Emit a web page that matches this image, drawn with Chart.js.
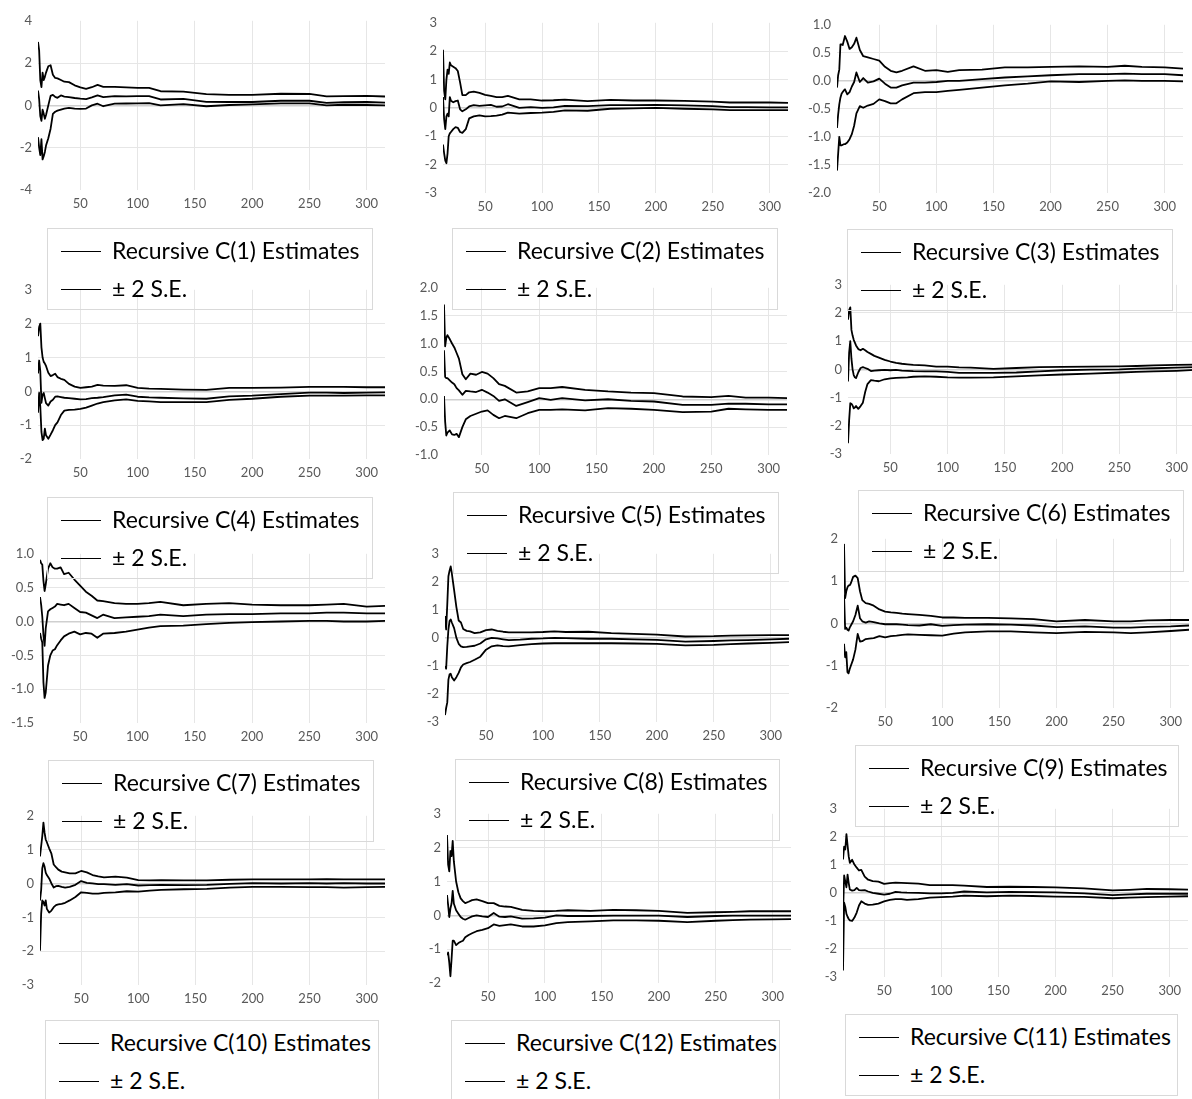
<!DOCTYPE html>
<html>
<head>
<meta charset="utf-8">
<script src="https://cdn.jsdelivr.net/npm/chart.js@4.4.0/dist/chart.umd.min.js"></script>
<style>
  html, body { margin: 0; padding: 0; background: #fff; overflow: hidden; }
  body { width: 1192px; height: 1099px; position: relative; font-family: Lato, "Open Sans", sans-serif; }
  .legend { position: absolute; height: 82px; border: 1px solid #d9d9d9; box-sizing: border-box; color: #000; font-size: 23px; }
  .legend .row { position: absolute; white-space: nowrap; line-height: 26px; height: 26px; }
  .legend .swatch { position: absolute; height: 0; border-top: 1.5px solid #000; width: 40px; }
</style>
</head>
<body>
<script>
// Recursive coefficient estimates (middle line) with ± 2 S.E. bands

// observation index used for every panel
const obsX = [13,14,15,16,17,18,19,20,22,24,26,28,30,33,36,40,45,50,55,60,65,70,80,90,100,110,120,140,160,180,200,225,250,265,280,300,316];
const xTicks = [50,100,150,200,250,300];

// C(1)
const c1Hi  = [3.0,2.6,1.2,0.86,1.55,1.2,1.35,1.55,1.85,1.9,1.45,1.3,1.28,1.2,1.12,1.1,0.95,0.85,0.78,0.86,0.97,0.88,0.88,0.85,0.83,0.83,0.67,0.65,0.53,0.5,0.5,0.55,0.54,0.43,0.44,0.45,0.42];
const c1Est = [0.7,0.3,-0.5,-0.73,-0.2,-0.4,-0.63,-0.45,0.0,0.45,0.5,0.4,0.36,0.47,0.42,0.39,0.35,0.32,0.3,0.38,0.47,0.39,0.44,0.43,0.44,0.44,0.28,0.31,0.17,0.16,0.16,0.22,0.22,0.12,0.15,0.16,0.13];
const c1Lo  = [-1.5,-2.0,-2.35,-1.6,-2.55,-2.4,-2.2,-1.9,-1.55,-1.1,-0.4,-0.3,-0.25,-0.2,-0.15,-0.12,-0.15,-0.16,-0.15,0.0,0.08,-0.04,0.08,0.09,0.1,0.11,0.0,0.06,-0.04,0.02,0.05,0.1,0.1,0.0,0.03,0.02,0.0];
const c1Ticks = [-4,-2,0,2,4];

// C(2)
const c2Hi  = [2.05,0.6,0.3,1.0,1.35,1.2,1.6,1.5,1.45,1.4,1.3,0.9,0.45,0.45,0.55,0.57,0.53,0.46,0.42,0.38,0.38,0.42,0.3,0.3,0.26,0.27,0.29,0.24,0.28,0.26,0.26,0.25,0.22,0.19,0.19,0.19,0.18];
const c2Est = [0.38,-0.4,-0.75,-0.3,-0.2,-0.3,0.38,0.25,0.2,0.24,0.26,-0.05,-0.12,-0.05,0.05,0.1,0.07,0.09,0.11,0.04,0.05,0.13,0.0,0.03,0.0,0.02,0.07,0.06,0.1,0.1,0.11,0.09,0.06,0.03,0.03,0.02,0.02];
const c2Lo  = [-1.29,-1.6,-1.86,-1.95,-1.6,-1.0,-0.9,-0.85,-0.75,-0.68,-0.7,-0.85,-0.88,-0.75,-0.37,-0.3,-0.26,-0.3,-0.29,-0.27,-0.24,-0.17,-0.2,-0.18,-0.17,-0.14,-0.09,-0.1,-0.03,-0.02,0.0,-0.03,-0.05,-0.08,-0.08,-0.08,-0.08];
const c2Ticks = [-3,-2,-1,0,1,2,3];

// C(3)
const c3Hi  = [-0.12,0.1,0.2,0.65,0.65,0.64,0.72,0.8,0.7,0.57,0.6,0.66,0.77,0.55,0.44,0.42,0.39,0.36,0.25,0.18,0.15,0.18,0.26,0.18,0.19,0.16,0.19,0.2,0.24,0.24,0.25,0.26,0.25,0.27,0.25,0.24,0.22];
const c3Est = [-0.84,-0.6,-0.42,-0.3,-0.23,-0.2,-0.17,-0.15,-0.24,-0.2,-0.1,-0.02,0.15,-0.02,0.05,-0.03,-0.01,0.04,-0.05,-0.12,-0.12,-0.08,-0.03,-0.03,-0.02,0.0,0.0,0.03,0.06,0.08,0.1,0.12,0.12,0.13,0.12,0.12,0.1];
const c3Lo  = [-1.6,-1.3,-1.0,-1.15,-1.15,-1.14,-1.13,-1.13,-1.1,-1.04,-0.95,-0.8,-0.58,-0.45,-0.48,-0.44,-0.41,-0.33,-0.36,-0.4,-0.4,-0.33,-0.22,-0.2,-0.2,-0.18,-0.16,-0.12,-0.08,-0.05,-0.01,-0.02,0.0,0.01,0.0,0.0,-0.01];
const c3Ticks = [-2,-1.5,-1,-0.5,0,0.5,1];

// C(4)
const c4Hi  = [1.63,1.9,2.0,1.3,1.0,0.87,0.82,0.75,0.55,0.45,0.48,0.52,0.42,0.37,0.34,0.22,0.14,0.1,0.12,0.14,0.19,0.17,0.16,0.18,0.1,0.08,0.07,0.05,0.04,0.1,0.1,0.11,0.13,0.13,0.13,0.12,0.12];
const c4Est = [0.53,0.91,0.6,-0.34,-0.1,-0.05,-0.2,-0.35,-0.42,-0.3,-0.25,-0.16,-0.15,-0.17,-0.19,-0.2,-0.22,-0.24,-0.23,-0.2,-0.19,-0.17,-0.12,-0.1,-0.16,-0.18,-0.19,-0.21,-0.22,-0.15,-0.13,-0.08,-0.04,-0.04,-0.05,-0.04,-0.03];
const c4Lo  = [-0.63,-0.05,-0.45,-1.2,-1.44,-1.4,-1.1,-1.3,-1.4,-1.28,-1.15,-1.0,-0.92,-0.7,-0.57,-0.55,-0.54,-0.52,-0.48,-0.42,-0.36,-0.32,-0.27,-0.24,-0.28,-0.3,-0.32,-0.32,-0.32,-0.25,-0.22,-0.16,-0.13,-0.13,-0.13,-0.12,-0.12];
const c4Ticks = [-2,-1,0,1,2,3];

// C(5)
const c5Hi  = [null,null,null,null,1.7,0.95,1.1,1.15,1.08,1.0,0.93,0.83,0.73,0.45,0.36,0.46,0.44,0.49,0.46,0.38,0.27,0.24,0.12,0.14,0.2,0.2,0.22,0.17,0.14,0.12,0.11,0.05,0.04,0.06,0.03,0.03,0.02];
const c5Est = [null,null,null,null,0.88,0.4,0.38,0.38,0.34,0.3,0.27,0.2,0.16,0.08,0.15,0.14,0.13,0.17,0.12,0.06,-0.03,0.0,-0.12,-0.05,0.02,-0.01,0.02,-0.02,0.0,-0.03,-0.04,-0.1,-0.1,-0.08,-0.08,-0.09,-0.09];
const c5Lo  = [null,null,null,null,0.06,-0.4,-0.65,-0.6,-0.56,-0.63,-0.64,-0.62,-0.68,-0.5,-0.36,-0.3,-0.26,-0.22,-0.2,-0.28,-0.34,-0.3,-0.34,-0.25,-0.19,-0.19,-0.18,-0.2,-0.16,-0.17,-0.19,-0.23,-0.22,-0.17,-0.18,-0.19,-0.19];
const c5Ticks = [-1,-0.5,0,0.5,1,1.5,2];

// C(6)
const c6Hi  = [1.76,2.1,2.2,1.4,1.2,1.05,0.95,0.85,0.72,0.68,0.73,0.68,0.62,0.55,0.48,0.42,0.34,0.28,0.23,0.2,0.18,0.16,0.14,0.1,0.1,0.07,0.06,0.02,0.05,0.08,0.09,0.1,0.11,0.12,0.14,0.16,0.17];
const c6Est = [-0.43,0.6,1.0,0.38,0.0,-0.2,-0.28,-0.31,-0.1,0.05,0.08,0.05,0.02,-0.06,-0.04,-0.03,-0.02,-0.03,-0.02,-0.04,-0.05,-0.06,-0.07,-0.07,-0.09,-0.12,-0.12,-0.12,-0.11,-0.07,-0.03,-0.01,0.0,0.03,0.04,0.06,0.08];
const c6Lo  = [-2.62,-1.8,-1.2,-1.22,-1.28,-1.38,-1.35,-1.3,-1.4,-1.3,-1.18,-0.8,-0.52,-0.38,-0.4,-0.42,-0.35,-0.32,-0.3,-0.29,-0.28,-0.26,-0.25,-0.26,-0.28,-0.29,-0.29,-0.28,-0.25,-0.21,-0.18,-0.15,-0.11,-0.09,-0.07,-0.05,-0.02];
const c6Ticks = [-3,-2,-1,0,1,2,3];

// C(7)
const c7Hi  = [null,null,0.91,0.86,0.84,0.6,0.45,0.55,0.78,0.86,0.8,0.78,0.78,0.8,0.7,0.72,0.62,0.53,0.44,0.38,0.31,0.3,0.27,0.26,0.26,0.27,0.29,0.24,0.26,0.27,0.25,0.24,0.24,0.25,0.26,0.22,0.23];
const c7Est = [null,null,0.36,0.25,0.07,-0.2,-0.36,-0.1,0.15,0.18,0.2,0.22,0.26,0.25,0.24,0.26,0.2,0.14,0.13,0.09,0.05,0.1,0.05,0.06,0.07,0.08,0.1,0.08,0.1,0.11,0.11,0.12,0.12,0.13,0.13,0.12,0.12];
const c7Lo  = [null,null,-0.17,-0.25,-0.31,-0.9,-1.13,-1.05,-0.65,-0.5,-0.43,-0.41,-0.35,-0.28,-0.22,-0.18,-0.15,-0.19,-0.17,-0.18,-0.24,-0.18,-0.17,-0.15,-0.12,-0.09,-0.07,-0.06,-0.04,-0.02,-0.01,0.0,0.01,0.01,0.0,0.0,0.01];
const c7Ticks = [-1.5,-1,-0.5,0,0.5,1];

// C(8)
const c8Hi  = [null,0.78,0.3,1.2,2.2,2.4,2.55,2.3,1.7,1.1,0.62,0.55,0.32,0.25,0.23,0.17,0.2,0.28,0.3,0.25,0.22,0.2,0.2,0.2,0.21,0.23,0.21,0.22,0.17,0.14,0.12,0.05,0.06,0.08,0.09,0.1,0.1];
const c8Est = [null,-1.0,-1.1,-0.3,0.3,0.6,0.66,0.55,0.35,0.0,-0.21,-0.3,-0.33,-0.32,-0.3,-0.28,-0.2,-0.05,0.0,-0.02,-0.05,-0.08,-0.06,-0.03,-0.02,0.0,-0.01,-0.03,-0.03,-0.05,-0.07,-0.13,-0.11,-0.09,-0.08,-0.05,-0.03];
const c8Lo  = [null,-2.75,-2.5,-2.3,-1.49,-1.3,-1.28,-1.4,-1.52,-1.4,-1.25,-1.05,-0.95,-0.9,-0.86,-0.78,-0.67,-0.42,-0.3,-0.27,-0.29,-0.3,-0.26,-0.22,-0.2,-0.19,-0.19,-0.19,-0.19,-0.2,-0.21,-0.27,-0.25,-0.22,-0.2,-0.18,-0.15];
const c8Ticks = [-3,-2,-1,0,1,2,3];

// C(9)
const c9Hi  = [null,1.88,0.6,0.76,0.85,0.9,0.9,0.95,1.1,1.13,1.07,0.76,0.55,0.48,0.46,0.42,0.33,0.28,0.26,0.25,0.23,0.22,0.2,0.18,0.14,0.14,0.13,0.13,0.12,0.1,0.05,0.08,0.05,0.05,0.07,0.08,0.08];
const c9Est = [null,0.68,-0.13,-0.1,-0.15,-0.17,-0.1,-0.05,0.05,0.2,0.42,0.12,0.05,0.02,0.05,0.03,0.0,-0.02,-0.02,-0.02,-0.03,-0.04,-0.05,-0.02,-0.06,-0.04,-0.03,-0.02,-0.03,-0.05,-0.09,-0.07,-0.1,-0.1,-0.08,-0.07,-0.05];
const c9Lo  = [null,-0.48,-0.8,-0.68,-1.15,-1.18,-1.08,-1.0,-0.85,-0.62,-0.25,-0.43,-0.42,-0.37,-0.36,-0.35,-0.3,-0.33,-0.3,-0.29,-0.27,-0.26,-0.27,-0.28,-0.29,-0.24,-0.21,-0.19,-0.19,-0.21,-0.23,-0.2,-0.21,-0.23,-0.21,-0.18,-0.15];
const c9Ticks = [-2,-1,0,1,2];

// C(10)
const c10Hi  = [null,0.8,1.1,1.4,1.8,1.5,1.3,1.22,1.04,0.88,0.56,0.48,0.41,0.35,0.33,0.3,0.3,0.37,0.33,0.25,0.21,0.18,0.2,0.17,0.1,0.09,0.1,0.09,0.09,0.11,0.12,0.12,0.12,0.13,0.12,0.12,0.12];
const c10Est = [null,-0.5,-0.2,0.45,0.6,0.5,0.32,0.25,0.15,0.0,-0.12,-0.08,-0.07,-0.1,-0.12,-0.1,-0.04,0.07,0.02,0.0,-0.02,-0.02,-0.04,-0.02,-0.06,-0.05,-0.04,-0.05,-0.04,-0.01,0.01,0.0,0.01,0.0,0.01,0.0,0.0];
const c10Lo  = [null,-1.99,-0.9,-0.5,-0.55,-0.65,-0.5,-0.75,-0.86,-0.8,-0.7,-0.64,-0.62,-0.6,-0.57,-0.5,-0.4,-0.26,-0.28,-0.3,-0.3,-0.28,-0.26,-0.23,-0.24,-0.21,-0.19,-0.17,-0.16,-0.12,-0.1,-0.1,-0.11,-0.11,-0.12,-0.11,-0.1];
const c10Ticks = [-3,-2,-1,0,1,2];

// C(12)
const c12Hi  = [null,2.37,1.5,1.3,1.9,1.75,2.2,1.6,1.0,0.68,0.5,0.42,0.36,0.4,0.45,0.47,0.42,0.36,0.36,0.28,0.26,0.25,0.16,0.13,0.12,0.13,0.15,0.13,0.16,0.15,0.13,0.07,0.09,0.1,0.12,0.12,0.12];
const c12Est = [null,0.6,0.3,-0.05,0.2,0.35,0.72,0.35,0.15,0.05,-0.05,-0.1,-0.13,-0.08,-0.03,0.0,-0.03,-0.05,0.07,-0.04,-0.05,-0.03,-0.1,-0.09,-0.07,0.0,-0.02,-0.02,-0.01,-0.01,-0.01,-0.05,-0.02,-0.01,-0.01,-0.01,-0.01];
const c12Lo  = [null,-1.18,-1.1,-1.4,-1.8,-1.3,-0.75,-0.75,-0.88,-0.82,-0.78,-0.75,-0.65,-0.58,-0.53,-0.47,-0.43,-0.38,-0.27,-0.31,-0.29,-0.27,-0.33,-0.33,-0.3,-0.23,-0.2,-0.18,-0.15,-0.15,-0.16,-0.2,-0.16,-0.14,-0.13,-0.12,-0.11];
const c12Ticks = [-2,-1,0,1,2,3];

// C(11)
const c11Hi  = [null,1.19,1.65,1.55,2.1,1.7,1.3,1.07,1.18,1.01,0.9,0.8,0.82,0.58,0.47,0.42,0.4,0.32,0.35,0.37,0.36,0.35,0.33,0.28,0.28,0.28,0.26,0.21,0.22,0.21,0.2,0.16,0.09,0.11,0.14,0.13,0.12];
const c11Est = [null,-0.79,0.62,0.4,0.2,0.65,0.35,0.12,0.08,0.1,0.18,0.1,0.09,0.1,0.05,0.0,-0.03,-0.06,-0.03,0.04,0.02,0.01,0.0,-0.02,-0.02,0.0,0.05,0.02,0.04,0.03,0.02,-0.02,-0.08,-0.05,-0.03,-0.03,-0.03];
const c11Lo  = [null,-2.77,-0.35,-0.5,-0.75,-0.85,-0.93,-0.98,-1.0,-0.88,-0.7,-0.45,-0.3,-0.38,-0.43,-0.42,-0.38,-0.3,-0.25,-0.22,-0.22,-0.25,-0.22,-0.17,-0.15,-0.13,-0.1,-0.12,-0.1,-0.11,-0.13,-0.14,-0.19,-0.17,-0.15,-0.13,-0.12];
const c11Ticks = [-3,-2,-1,0,1,2,3];

// layout: plot = [left, top, right, bottom] of the chart area, legend = [left, top, width]
const panels = [
  { name: 'C(1)',  hi: c1Hi,  est: c1Est,  lo: c1Lo,  yTicks: c1Ticks,  dec: 0, xMin: 13, plot: [38, 17, 385, 190],    legend: [47, 228, 326] },
  { name: 'C(2)',  hi: c2Hi,  est: c2Est,  lo: c2Lo,  yTicks: c2Ticks,  dec: 0, xMin: 13, plot: [443, 19, 788, 193],   legend: [452, 228, 326] },
  { name: 'C(3)',  hi: c3Hi,  est: c3Est,  lo: c3Lo,  yTicks: c3Ticks,  dec: 1, xMin: 13, plot: [837, 21, 1183, 193],  legend: [847, 229, 326] },
  { name: 'C(4)',  hi: c4Hi,  est: c4Est,  lo: c4Lo,  yTicks: c4Ticks,  dec: 0, xMin: 13, plot: [38, 286, 385, 459],   legend: [47, 497, 326] },
  { name: 'C(5)',  hi: c5Hi,  est: c5Est,  lo: c5Lo,  yTicks: c5Ticks,  dec: 1, xMin: 17, plot: [444, 284, 787, 455],  legend: [453, 492, 326] },
  { name: 'C(6)',  hi: c6Hi,  est: c6Est,  lo: c6Lo,  yTicks: c6Ticks,  dec: 0, xMin: 13, plot: [848, 281, 1195, 454], legend: [858, 490, 326] },
  { name: 'C(7)',  hi: c7Hi,  est: c7Est,  lo: c7Lo,  yTicks: c7Ticks,  dec: 1, xMin: 15, plot: [40, 550, 385, 723],   legend: [48, 760, 326] },
  { name: 'C(8)',  hi: c8Hi,  est: c8Est,  lo: c8Lo,  yTicks: c8Ticks,  dec: 0, xMin: 14, plot: [445, 550, 789, 722],  legend: [455, 759, 325] },
  { name: 'C(9)',  hi: c9Hi,  est: c9Est,  lo: c9Lo,  yTicks: c9Ticks,  dec: 0, xMin: 14, plot: [844, 535, 1189, 708], legend: [855, 745, 324] },
  { name: 'C(10)', hi: c10Hi, est: c10Est, lo: c10Lo, yTicks: c10Ticks, dec: 0, xMin: 14, plot: [40, 812, 385, 985],   legend: [45, 1020, 334] },
  { name: 'C(12)', hi: c12Hi, est: c12Est, lo: c12Lo, yTicks: c12Ticks, dec: 0, xMin: 14, plot: [447, 810, 791, 983],  legend: [451, 1020, 329] },
  { name: 'C(11)', hi: c11Hi, est: c11Est, lo: c11Lo, yTicks: c11Ticks, dec: 0, xMin: 14, plot: [843, 805, 1188, 977], legend: [845, 1014, 333] }
];

const Y_W = 40, X_H = 26, PAD_T = 10, PAD_R = 4;
const tickFont = { family: 'Lato', size: 13 };
const gridGrey = '#e6e6e6';

function drawPanel(p) {
  const [L, T, R, B] = p.plot;
  const W = R - L + Y_W + PAD_R, H = B - T + PAD_T + X_H;
  const cv = document.createElement('canvas');
  cv.width = W; cv.height = H;
  cv.style.cssText = `position:absolute;left:${L - Y_W}px;top:${T - PAD_T}px;width:${W}px;height:${H}px`;
  document.body.appendChild(cv);

  const yMin = p.yTicks[0], yMax = p.yTicks[p.yTicks.length - 1];
  const line = arr => ({
    data: obsX.map((x, i) => ({ x, y: arr[i] })).filter(d => d.y !== null),
    borderColor: '#000', borderWidth: 1.8, borderJoinStyle: 'round',
    pointRadius: 0, tension: 0, fill: false
  });

  new Chart(cv, {
    type: 'line',
    data: { datasets: [line(p.hi), line(p.est), line(p.lo)] },
    options: {
      responsive: false, animation: false,
      layout: { padding: { top: PAD_T, right: PAD_R, left: 0, bottom: 0 } },
      plugins: { legend: { display: false }, tooltip: { enabled: false } },
      scales: {
        x: {
          type: 'linear', min: p.xMin, max: 316,
          afterBuildTicks: ax => { ax.ticks = xTicks.map(v => ({ value: v })); },
          afterFit: s => { s.height = X_H; },
          border: { display: false },
          grid: { color: gridGrey, drawTicks: false },
          ticks: { color: '#595959', font: tickFont, padding: 6, maxRotation: 0, autoSkip: false }
        },
        y: {
          min: yMin, max: yMax,
          afterBuildTicks: ax => { ax.ticks = p.yTicks.map(v => ({ value: v })); },
          afterFit: s => { s.width = Y_W; },
          border: { display: false },
          grid: {
            drawTicks: false,
            color: c => c.tick.value === 0 ? '#cfcfcf' : (c.tick.value === yMin || c.tick.value === yMax ? 'rgba(0,0,0,0)' : gridGrey),
            lineWidth: c => c.tick.value === 0 ? 1.5 : 1
          },
          ticks: { color: '#595959', font: tickFont, padding: 6, callback: v => v.toFixed(p.dec) }
        }
      }
    }
  });
}

function drawLegend(p) {
  const [l, t, w] = p.legend;
  const box = document.createElement('div');
  box.className = 'legend';
  box.style.left = l + 'px'; box.style.top = t + 'px'; box.style.width = w + 'px';
  box.innerHTML = `
    <div class="swatch" style="left:13px;top:22px"></div>
    <div class="row" style="left:64px;top:8px">Recursive ${p.name} Estimates</div>
    <div class="swatch" style="left:13px;top:60px"></div>
    <div class="row" style="left:64px;top:46px">± 2 S.E.</div>`;
  document.body.appendChild(box);
}

panels.forEach(drawPanel);
panels.forEach(drawLegend);
</script>
</body>
</html>
